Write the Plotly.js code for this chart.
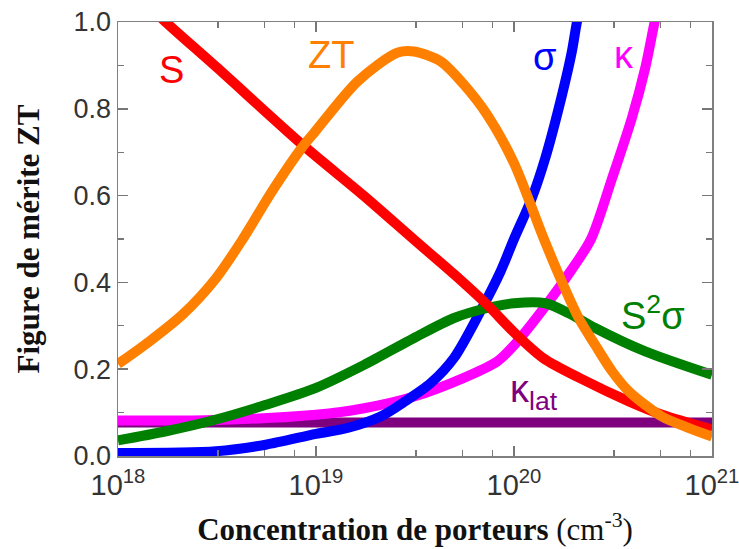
<!DOCTYPE html>
<html>
<head>
<meta charset="utf-8">
<script src="https://cdn.plot.ly/plotly-3.0.1.min.js"></script>
<style>
  html, body { margin: 0; padding: 0; background: #fff; }
  #chart { width: 739px; height: 549px; }
</style>
</head>
<body>
<div id="chart"></div>
<script>
// Carrier concentration (cm^-3) and normalised quantities for each curve
const nS = [1.41e18, 1.74e18, 3.16e18, 8.5e18, 1.74e19, 3.1e19, 5.0e19, 7.3e19, 1.0e20, 1.41e20, 2.14e20, 3.8e20, 5.6e20, 1.0e21];
const S  = [1.04, 1.00, 0.895, 0.718, 0.60, 0.50, 0.418, 0.349, 0.285, 0.225, 0.18, 0.126, 0.095, 0.061];

const nZT = [1.0e18, 1.44e18, 2.12e18, 3.13e18, 4.27e18, 6.0e18, 8.6e18, 9.8e18, 1.62e19, 2.57e19, 3.13e19, 4.27e19, 5.58e19, 7.33e19, 1.0e20, 1.41e20, 1.75e20, 2.12e20, 2.57e20, 3.13e20, 3.8e20, 5.58e20, 7.6e20, 1.0e21];
const ZT  = [0.212, 0.264, 0.326, 0.41, 0.50, 0.61, 0.714, 0.745, 0.863, 0.929, 0.932, 0.909, 0.856, 0.786, 0.675, 0.502, 0.40, 0.318, 0.256, 0.195, 0.149, 0.091, 0.065, 0.045];

const nSigma = [1.0e18, 3.13e18, 5.58e18, 1.0e19, 1.44e19, 2.12e19, 2.78e19, 3.8e19, 4.98e19, 6.76e19, 8.57e19, 1.0e20, 1.23e20, 1.44e20, 1.75e20, 1.96e20, 2.08e20, 2.19e20];
const sigma  = [0.007, 0.011, 0.026, 0.051, 0.0645, 0.091, 0.124, 0.168, 0.226, 0.333, 0.426, 0.50, 0.594, 0.687, 0.833, 0.932, 1.0, 1.04];

const nKappa = [1.0e18, 3.13e18, 1.0e19, 1.75e19, 3.13e19, 5.58e19, 8.24e19, 1.0e20, 1.44e20, 1.96e20, 2.45e20, 3.13e20, 3.94e20, 4.6e20, 5.13e20, 5.37e20];
const kappa  = [0.082, 0.083, 0.095, 0.11, 0.137, 0.18, 0.218, 0.255, 0.345, 0.43, 0.50, 0.64, 0.779, 0.894, 1.0, 1.04];

const nPF = [1.0e18, 1.75e18, 3.13e18, 5.58e18, 1.0e19, 1.75e19, 3.13e19, 4.98e19, 7.33e19, 1.0e20, 1.44e20, 1.89e20, 2.57e20, 4.6e20, 1.0e21];
const S2sigma = [0.036, 0.057, 0.084, 0.118, 0.157, 0.21, 0.272, 0.318, 0.341, 0.352, 0.352, 0.329, 0.295, 0.241, 0.187];

const nLat = [1.0e18, 1.0e21];
const kappaLat = [0.077, 0.077];

// Axis ticks
const xTickVals = [1e18, 1e19, 1e20, 1e21];
const xTickText = ['10<sup>18</sup>', '10<sup>19</sup>', '10<sup>20</sup>', '10<sup>21</sup>'];
const xMinorMantissa = [3.2, 5.5, 7.8];
const decades = [18, 19, 20];

const xMinorVals = [];
decades.forEach(d => xMinorMantissa.forEach(m => xMinorVals.push(m * Math.pow(10, d))));

const W = 10;
function curve(x, y, color) {
  return { x: x, y: y, type: 'scatter', mode: 'lines',
           line: { color: color, width: W, shape: 'spline', smoothing: 0.8 },
           hoverinfo: 'skip', showlegend: false };
}

const traces = [
  curve(nLat, kappaLat, '#7f007f'),
  curve(nKappa, kappa, '#ff00ff'),
  curve(nSigma, sigma, '#0000ff'),
  curve(nPF, S2sigma, '#008000'),
  curve(nS, S, '#ff0000'),
  curve(nZT, ZT, '#ff8000')
];

// Plot area in pixels: left 118, right 712, top 22, bottom 456
const L = 118, R = 712, T = 22, B = 456;
const px = v => (v - L) / (R - L);
const py = v => (B - v) / (B - T);

function label(text, x, y, color) {
  return { text: text, xref: 'paper', yref: 'paper', x: px(x), y: py(y),
           xanchor: 'center', yanchor: 'middle', showarrow: false,
           font: { family: 'Liberation Sans, Arial, sans-serif', size: 38, color: color } };
}

const xRange = [17.99999, 21.00001];
const tickGrey = '#777';

const layout = {
  width: 739, height: 549,
  margin: { l: L, r: 739 - R, t: T, b: 549 - B },
  paper_bgcolor: '#ffffff', plot_bgcolor: '#ffffff',
  showlegend: false,
  xaxis: {
    type: 'log', range: xRange,
    tickmode: 'array', tickvals: xTickVals, ticktext: xTickText,
    ticks: 'inside', ticklen: 10, tickwidth: 1.5, tickcolor: tickGrey,
    ticklabeloverflow: 'allow', ticklabelstandoff: 3,
    showline: true, linecolor: '#808080', linewidth: 1.5, mirror: 'ticks',
    showgrid: false, zeroline: false,
    tickfont: { family: 'Liberation Sans, Arial, sans-serif', size: 29, color: '#333' },
    title: { text: '<b>Concentration de porteurs</b> (cm<sup>-3</sup>)', standoff: 18,
             font: { family: 'Liberation Serif, Times New Roman, serif', size: 31, color: '#111' } }
  },
  // unlabelled companion axis carrying the minor x ticks (bottom and mirrored top)
  xaxis2: {
    type: 'log', range: xRange, overlaying: 'x', side: 'bottom', anchor: 'y',
    tickmode: 'array', tickvals: xMinorVals, showticklabels: false,
    ticks: 'inside', ticklen: 6, tickwidth: 1.2, tickcolor: tickGrey,
    showline: false, mirror: 'ticks', showgrid: false, zeroline: false
  },
  yaxis: {
    range: [0, 1], dtick: 0.2, tick0: 0, tickformat: '.1f',
    ticks: 'inside', ticklen: 10, tickwidth: 1.5, tickcolor: tickGrey,
    minor: { dtick: 0.1, ticks: 'inside', ticklen: 6, tickwidth: 1.2, tickcolor: tickGrey },
    showline: true, linecolor: '#808080', linewidth: 1.5, mirror: 'ticks',
    showgrid: false, zeroline: false,
    tickfont: { family: 'Liberation Sans, Arial, sans-serif', size: 27, color: '#333' },
    title: { text: '<b>Figure de mérite ZT</b>', standoff: 24,
             font: { family: 'Liberation Serif, Times New Roman, serif', size: 31, color: '#111' } }
  },
  annotations: [
    label('S', 171, 70, '#ff0000'),
    label('ZT', 331, 55, '#ff8000'),
    label('σ', 544, 57, '#0000ff'),
    label('κ', 624, 55, '#ff00ff'),
    label('S<sup>2</sup>σ', 653, 313, '#008000'),
    label('κ<sub>lat</sub>', 534, 392, '#7f007f')
  ]
};

// invisible trace that keeps the minor-tick axis on the plot (drawn below the visible range)
traces.push({ x: [1e18, 1e21], y: [-1, -1], xaxis: 'x2', yaxis: 'y', type: 'scatter', mode: 'lines',
              line: { width: 0 }, hoverinfo: 'skip', showlegend: false });

Plotly.newPlot('chart', traces, layout, { staticPlot: true, displayModeBar: false });
</script>
</body>
</html>
